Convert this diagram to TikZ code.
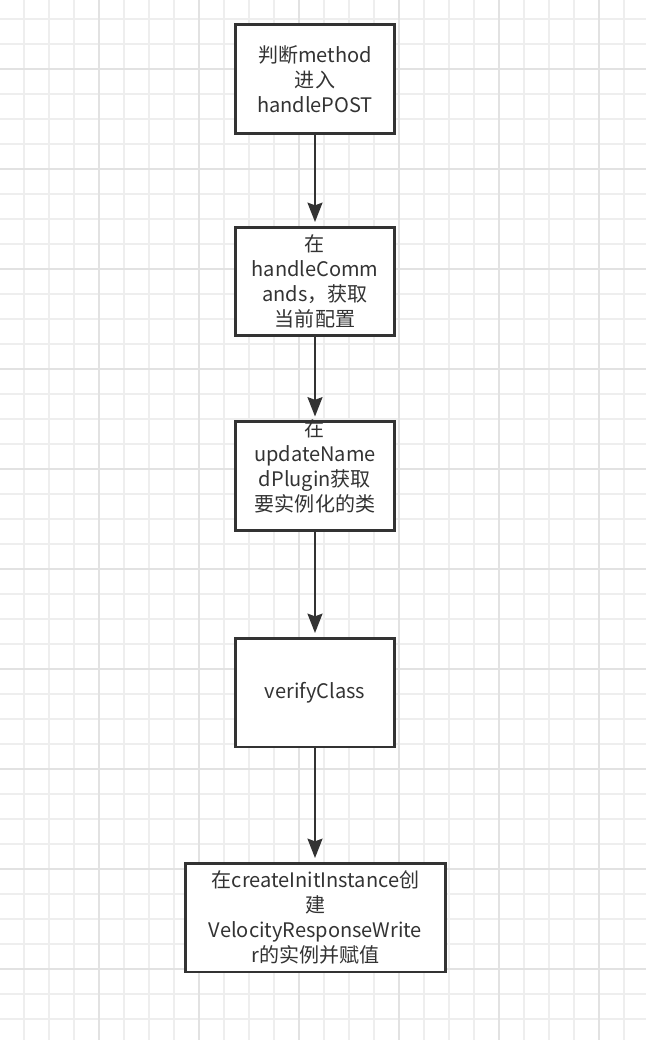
\documentclass[tikz,border=0pt]{standalone}
\usepackage{fontspec}
\setmainfont{Noto Sans CJK SC}
\usetikzlibrary{arrows.meta}
\definecolor{ink}{HTML}{333333}
\definecolor{gridminor}{HTML}{EEEEEE}
\definecolor{gridmajor}{HTML}{E2E2E2}

\begin{document}
\begin{tikzpicture}[x=0.02cm,y=-0.02cm,
  txt/.style={text=ink,align=center,font=\fontsize{11.4}{14.2}\selectfont},
  box/.style={txt,rectangle,draw=ink,line width=1.7pt,fill=white,
    minimum width=3.18cm,minimum height=2.18cm,inner sep=0pt},
  flow/.style={-{Stealth[length=11pt,width=8.5pt,inset=1.5pt]},draw=ink,
    line width=1.2pt,shorten >=2pt}]
\useasboundingbox (0,0) rectangle (646,1040);
\fill[white] (0,0) rectangle (646,1040);
% \draw[help lines] (0,0) grid (646,1040);
\foreach \x in {24,49,...,624} \draw[gridminor,line width=1.1pt] (\x,0) -- (\x,1040);
\foreach \y in {19,44,...,1019} \draw[gridminor,line width=1.1pt] (0,\y) -- (646,\y);
\foreach \x in {99,199,...,599} \draw[gridmajor,line width=1.2pt] (\x,0) -- (\x,1040);
\foreach \y in {69,169,...,969} \draw[gridmajor,line width=1.2pt] (0,\y) -- (646,\y);
%
\node (q1) [box] at (315,79) {判断method\\进入\\handlePOST};
\node (q2) [box] at (315,281.5) {在\\handleComm\\ands，获取\\当前配置};
\node (q3) [box] at (315,476) {};
\node (t3) [txt] at (315,466) {在\\updateName\\dPlugin获取\\要实例化的类};
\node (q4) [box] at (315,692.5) {verifyClass};
\node (q5) [box,minimum width=5.2cm] at (315.5,917.5) {在createInitInstance创\\建\\VelocityResponseWrite\\r的实例并赋值};
%
\draw[flow] (q1) -- (q2);
\draw[flow] (q2) -- (q3);
\draw[flow] (q3) -- (q4);
\draw[flow] (q4.south) -- (q4.south |- q5.north);
\end{tikzpicture}
\end{document}
